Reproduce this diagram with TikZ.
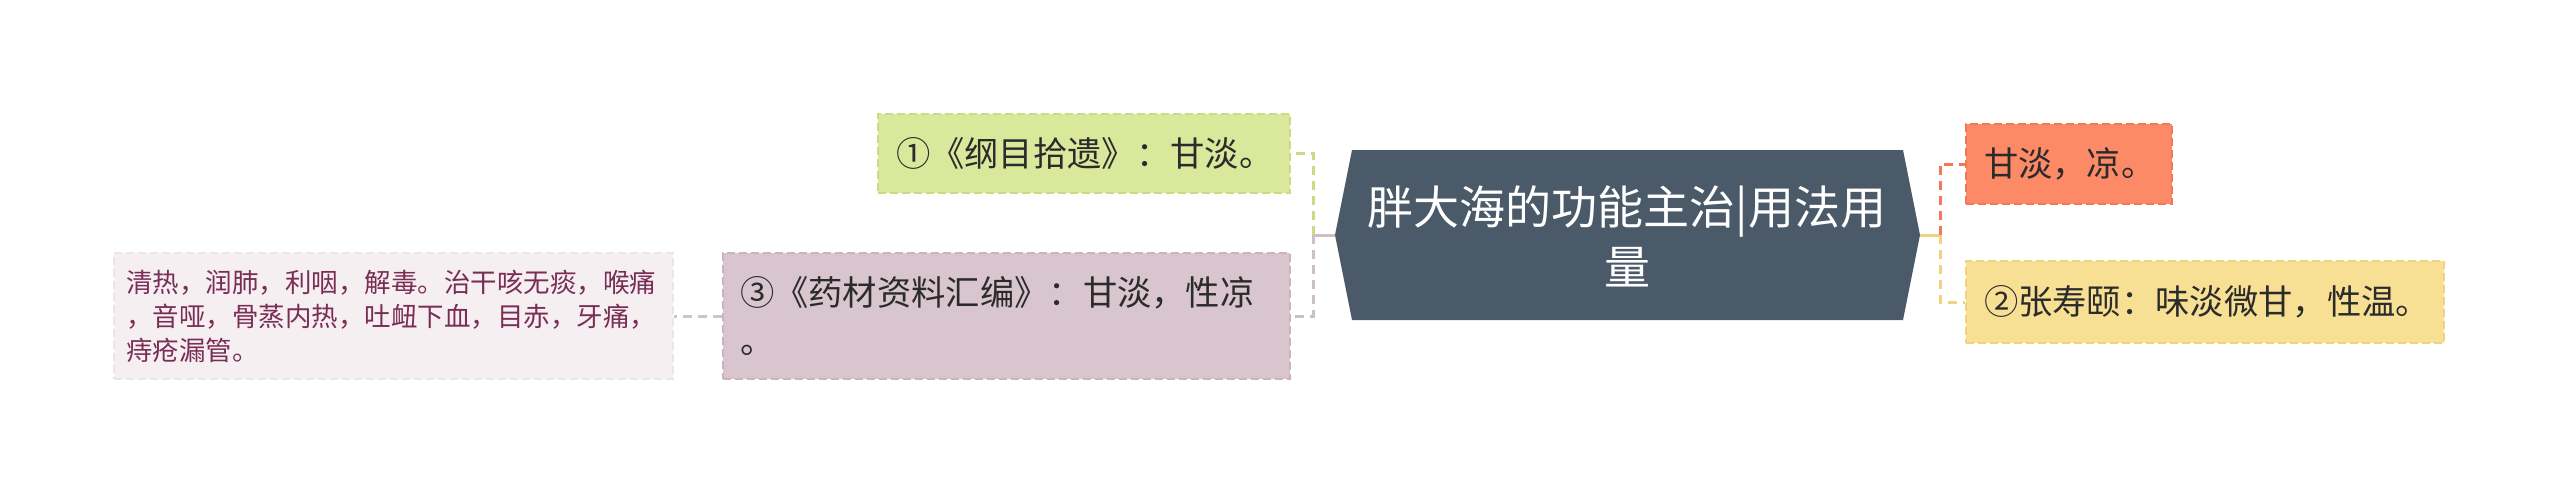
\documentclass[tikz,border=0pt]{standalone}
\usepackage{fontspec}
\setmainfont{Noto Sans CJK SC}
\definecolor{cfill}{HTML}{4B5A69}
\definecolor{gfill}{HTML}{DAE89C}
\definecolor{gline}{HTML}{CADB86}
\definecolor{pfill}{HTML}{D8C5CE}
\definecolor{pline}{HTML}{C9B4BE}
\definecolor{kfill}{HTML}{F5EFF2}
\definecolor{kline}{HTML}{EDE4E8}
\definecolor{ktext}{HTML}{7A2E55}
\definecolor{ofill}{HTML}{FD8A67}
\definecolor{oline}{HTML}{F07A58}
\definecolor{yfill}{HTML}{F7DF94}
\definecolor{yline}{HTML}{EFD381}
\definecolor{txt}{HTML}{2B2B2B}
\definecolor{grayc}{HTML}{C8C8C8}
\definecolor{purc}{HTML}{CDBFC6}
\begin{document}
\begin{tikzpicture}[x=1pt,y=-1pt,
  box/.style={draw, line width=2pt, dash pattern=on 8pt off 4pt, inner ysep=0pt, align=left, text=txt, font=\fontsize{34.3}{48}\selectfont},
  ktxt/.style={anchor=base west, inner sep=0pt, text=ktext, font=\fontsize{26.5}{34}\selectfont},
  conn/.style={line width=3pt, dash pattern=on 9pt off 6pt},
  stub/.style={line width=3pt}]
\useasboundingbox (0,0) rectangle (2560,495);
\fill[white] (0,0) rectangle (2560,495);

% central hexagon
\coordinate (cL) at (1335,235);
\coordinate (cR) at (1920,235);
\fill[cfill] (cL) -- (1352,150) -- (1903,150) -- (cR) -- (1903,320) -- (1352,320) -- cycle;
\node[text=white, align=center, font=\fontsize{46}{60}\selectfont] (center) at (1627,236) {胖大海的功能主治|用法用\\量};

% level-1 nodes
\node[box, fill=gfill, draw=gline, minimum width=412pt, minimum height=79pt, inner xsep=18pt, text width=376pt] (g) at (1084,153.5) {①《纲目拾遗》：甘淡。};
\node[box, fill=pfill, draw=pline, minimum width=567pt, minimum height=126pt, inner xsep=17pt, text width=533pt] (p) at (1006.5,316) {③《药材资料汇编》：甘淡，性凉\\。};
\node[box, fill=ofill, draw=oline, minimum width=206pt, minimum height=80pt, inner xsep=18pt, text width=170pt] (o) at (2069,164) {甘淡，凉。};
\node[box, fill=yfill, draw=yline, minimum width=478pt, minimum height=82pt, inner xsep=18pt, text width=442pt] (y) at (2205,302) {②张寿颐：味淡微甘，性温。};

% level-2 node
\node[box, fill=kfill, draw=kline, minimum width=559pt, minimum height=126pt, inner sep=0pt] (k) at (393.5,316) {};
\node[ktxt] (k1) at (126,292) {清热，润肺，利咽，解毒。治干咳无痰，喉痛};
\node[ktxt] (k2) at (126,326) {，音哑，骨蒸内热，吐衄下血，目赤，牙痛，};
\node[ktxt] (k3) at (126,360) {痔疮漏管。};

% connectors left
\coordinate (jl) at (1313,235);
\coordinate (jr) at (1940,235);
\draw[stub, purc] (cL) -- (jl);
\draw[conn, gline] (jl) |- (g.east);
\draw[conn, purc] (jl) |- (p.east);
\draw[conn, grayc] (p.west) -- (k.east);
% connectors right
\draw[stub, yline] (cR) -- (jr);
\draw[conn, oline] (jr) |- (o.west);
\draw[conn, yline] (jr) |- (y.west);
\end{tikzpicture}
\end{document}
